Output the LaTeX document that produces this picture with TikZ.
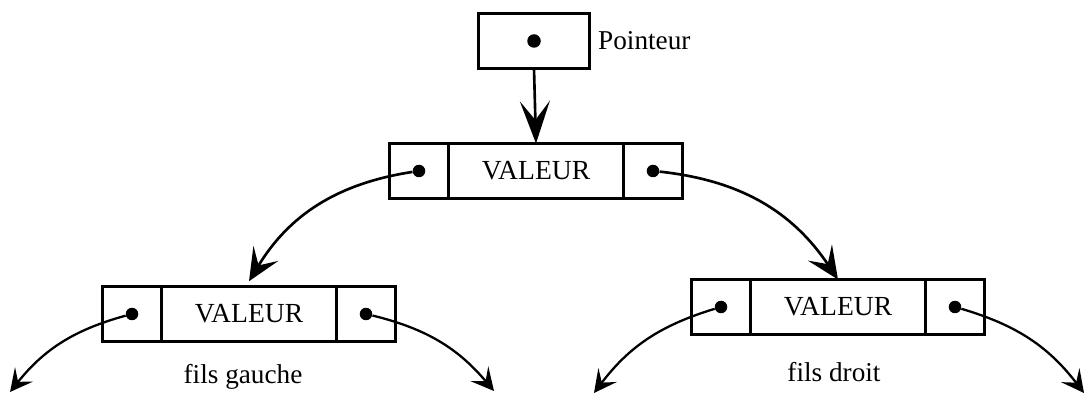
\documentclass[tikz,border=0pt]{standalone}
\usepackage{fontspec}
\setmainfont{Liberation Serif}
\usetikzlibrary{arrows.meta,positioning}

\begin{document}
\begin{tikzpicture}[
  x=0.02cm, y=-0.02cm,
  cell/.style={draw,line width=1.5pt,minimum height=1.1cm,inner sep=0pt,
               outer sep=0pt},
  pc/.style={cell,minimum width=1.18cm},
  vc/.style={cell,minimum width=3.5cm,font=\fontsize{15.7}{18}\selectfont},
  dot/.style={circle,fill,inner sep=0pt,minimum size=0.25cm},
  lbl/.style={font=\fontsize{15.5}{18}\selectfont},
  fl/.style={line width=1.5pt,-{Stealth[length=6.5mm,width=5.8mm,inset=2.8mm]}},
  fls/.style={line width=1.3pt,-{Stealth[length=4.5mm,width=4.6mm,inset=1.9mm]}},
  ]
  \useasboundingbox (0,0) rectangle (1092,394);

  % pointer
  \node[cell,minimum width=2.22cm] (ptr) at (534,41) {};
  \node[dot,minimum size=0.27cm] (pdot) at (ptr.center) {};
  \node[lbl,right=0.5mm of ptr] (ptrlbl) {Pointeur};

  % root
  \node[vc] (rV) at (536,171) {VALEUR};
  \node[pc,left=0pt of rV] (rL) {};
  \node[pc,right=0pt of rV] (rR) {};

  % left son
  \node[vc] (gV) at (249,314) {VALEUR};
  \node[pc,left=0pt of gV] (gL) {};
  \node[pc,right=0pt of gV] (gR) {};
  \node[lbl] (glbl) at (243,377) {fils gauche};

  % right son
  \node[vc] (dV) at (838,307) {VALEUR};
  \node[pc,left=0pt of dV] (dL) {};
  \node[pc,right=0pt of dV] (dR) {};
  \node[lbl] (dlbl) at (834,372) {fils droit};

  \foreach \n in {rL,rR,gL,gR,dL,dR}
    \node[dot] (\n d) at (\n.center) {};

  \coordinate (g1) at (10,392);
  \coordinate (g2) at (494,391);
  \coordinate (d1) at (594,393);
  \coordinate (d2) at (1084,393);

  \draw[fl,-{Stealth[length=8.5mm,width=6mm,inset=3.8mm]}] (ptr.south) -- (rV.north);
  \draw[fl] (rLd) to[bend right=25] ([yshift=3pt]gV.north);
  \draw[fl] (rRd) to[bend left=25] (dV.north);
  \draw[fls] (gLd) to[bend right=18] (g1);
  \draw[fls] (gRd) to[bend left=18] (g2);
  \draw[fls] (dLd) to[bend right=18] (d1);
  \draw[fls] (dRd) to[bend left=18] (d2);
\end{tikzpicture}
\end{document}
